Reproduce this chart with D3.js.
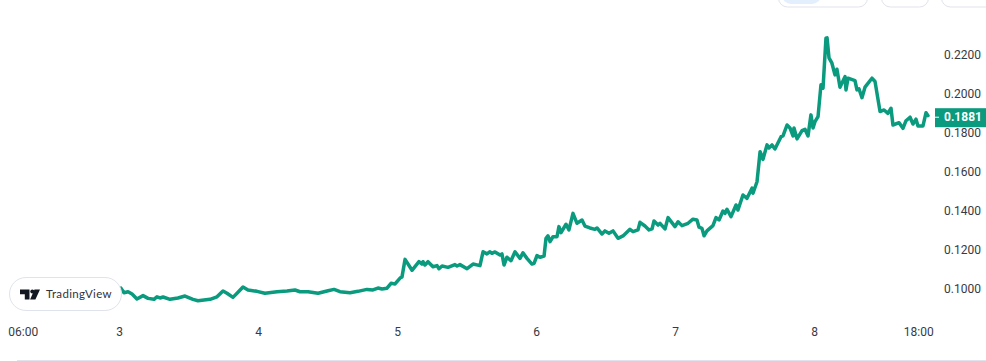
<!DOCTYPE html>
<html>
<head>
<meta charset="utf-8">
<script src="https://cdn.jsdelivr.net/npm/d3@7"></script>
<style>
  html, body { margin: 0; padding: 0; background: #fff; overflow: hidden; }
  text { font-family: Roboto, "Noto Sans", sans-serif; }
</style>
</head>
<body>
<div id="chart"></div>
<script>
const width = 986;
const height = 361;
const lineColor = '#0a9a7e';

// time in days of the month
const days = [3.014,3.036,3.065,3.094,3.129,3.173,3.209,3.252,3.273,3.295,3.317,3.367,3.424,3.475,3.532,3.568,3.655,3.705,3.748,3.777,3.820,3.856,3.892,3.928,3.993,4.050,4.137,4.209,4.266,4.302,4.360,4.432,4.504,4.547,4.590,4.662,4.719,4.784,4.827,4.863,4.892,4.928,4.957,4.986,5.022,5.036,5.058,5.108,5.158,5.180,5.187,5.201,5.223,5.259,5.288,5.302,5.324,5.367,5.417,5.432,5.453,5.504,5.547,5.597,5.619,5.647,5.669,5.683,5.705,5.741,5.755,5.770,5.791,5.820,5.849,5.885,5.906,5.935,5.971,5.986,6.007,6.029,6.058,6.072,6.086,6.101,6.122,6.151,6.165,6.180,6.216,6.237,6.266,6.295,6.331,6.352,6.388,6.424,6.439,6.475,6.496,6.525,6.554,6.590,6.626,6.676,6.698,6.734,6.748,6.784,6.813,6.835,6.849,6.878,6.892,6.928,6.950,7.000,7.022,7.050,7.094,7.129,7.158,7.173,7.194,7.209,7.230,7.273,7.295,7.317,7.345,7.360,7.374,7.403,7.439,7.453,7.489,7.518,7.554,7.561,7.590,7.612,7.633,7.662,7.676,7.698,7.719,7.763,7.777,7.806,7.827,7.849,7.856,7.878,7.914,7.935,7.957,7.978,7.993,8.007,8.029,8.050,8.065,8.086,8.094,8.108,8.129,8.151,8.165,8.187,8.223,8.230,8.245,8.295,8.309,8.324,8.345,8.367,8.417,8.439,8.475,8.504,8.532,8.554,8.568,8.612,8.640,8.662,8.691,8.712,8.734,8.748,8.784,8.806,8.820];

// price
const prices = [.1004,.0981,.0986,.0974,.0949,.0966,.0952,.0947,.0960,.0954,.0959,.0947,.0954,.0964,.0947,.0940,.0947,.0960,.0990,.0978,.0957,.0983,.1010,.0995,.0988,.0978,.0986,.0990,.0995,.0986,.0986,.0978,.0991,.0998,.0986,.0981,.0988,.0998,.0995,.1005,.1000,.1004,.1029,.1026,.1056,.1062,.1152,.1096,.1140,.1128,.1140,.1123,.1140,.1114,.1120,.1104,.1118,.1111,.1125,.1118,.1125,.1104,.1128,.1120,.1191,.1180,.1191,.1183,.1190,.1174,.1180,.1123,.1163,.1145,.1191,.1157,.1186,.1157,.1128,.1132,.1171,.1163,.1169,.1260,.1273,.1243,.1268,.1268,.1320,.1289,.1332,.1303,.1388,.1337,.1354,.1323,.1313,.1306,.1313,.1282,.1298,.1286,.1298,.1260,.1272,.1306,.1294,.1303,.1342,.1323,.1303,.1308,.1349,.1328,.1337,.1308,.1366,.1320,.1345,.1325,.1337,.1358,.1354,.1317,.1311,.1273,.1298,.1325,.1366,.1354,.1400,.1388,.1409,.1371,.1431,.1405,.1482,.1465,.1517,.1491,.1550,.1704,.1665,.1739,.1723,.1739,.1718,.1781,.1785,.1841,.1826,.1785,.1826,.1770,.1812,.1819,.1785,.1893,.1826,.1858,.1884,.2047,.2030,.2286,.2288,.2185,.2158,.2098,.2127,.2035,.2089,.2021,.2081,.2069,.2021,.2026,.1981,.2035,.2081,.2064,.1910,.1918,.1901,.1927,.1841,.1853,.1824,.1863,.1881,.1846,.1871,.1836,.1836,.1904,.1889];

const priceTicks = [0.10, 0.12, 0.14, 0.16, 0.18, 0.20, 0.22];
const timeTicks = [2.25, 3, 4, 5, 6, 7, 8, 8.75];
const timeLabels = ['06:00', '3', '4', '5', '6', '7', '8', '18:00'];
const lastPrice = 0.1881;

const scaleDay = d3.scaleLinear().domain([3, 8]).range([119, 814]);
const scalePrice = d3.scaleLinear().domain([0.10, 0.22]).range([289, 55]);

const svg = d3.select('#chart').append('svg')
  .attr('width', width)
  .attr('height', height)
  .style('display', 'block');

// the price line
const line = d3.line()
  .x((d, i) => scaleDay(days[i]))
  .y(d => scalePrice(d))
  .curve(d3.curveLinear);

svg.append('path')
  .attr('d', line(prices))
  .attr('fill', 'none')
  .attr('stroke', lineColor)
  .attr('stroke-width', 3.5)
  .attr('stroke-linejoin', 'round')
  .attr('stroke-linecap', 'round');

// price axis
const yAxis = svg.append('g')
  .attr('transform', 'translate(944,0)')
  .call(d3.axisRight(scalePrice).tickValues(priceTicks).tickFormat(d3.format('.4f')).tickSize(0).tickPadding(0));
yAxis.select('.domain').remove();
yAxis.selectAll('text').attr('font-size', 12).attr('fill', '#363a45').style('font-family', 'Roboto, sans-serif');

// time axis
const xAxis = svg.append('g')
  .attr('transform', 'translate(0,327)')
  .call(d3.axisBottom(scaleDay).tickValues(timeTicks).tickFormat((d, i) => timeLabels[i]).tickSize(0).tickPadding(0));
xAxis.select('.domain').remove();
xAxis.selectAll('text')
  .attr('font-size', 12)
  .attr('fill', '#363a45')
  .style('font-family', 'Roboto, sans-serif')
  .attr('dx', (d, i) => i === 0 ? 8 : 0); // first label is pushed in from the edge

// last price tag
const tagY = scalePrice(lastPrice);
svg.append('rect')
  .attr('x', 935).attr('y', tagY - 9)
  .attr('width', 51).attr('height', 19)
  .attr('fill', lineColor);
svg.append('line')
  .attr('x1', 935).attr('x2', 939)
  .attr('y1', tagY).attr('y2', tagY)
  .attr('stroke', '#fff');
svg.append('text')
  .attr('x', 944).attr('y', tagY)
  .attr('dy', '0.35em')
  .attr('font-size', 12)
  .attr('font-weight', 700)
  .attr('fill', '#fff')
  .text(d3.format('.4f')(lastPrice));

// TradingView badge
const badge = svg.append('g');
badge.append('rect')
  .attr('x', 9.5).attr('y', 277.5)
  .attr('width', 112).attr('height', 33).attr('rx', 16.5)
  .attr('fill', '#fff').attr('stroke', '#e0e3eb');
badge.append('path')
  .attr('d', 'M20 289.5h9.5v10h-4.7v-5.3H20z')
  .attr('fill', '#131722');
badge.append('circle').attr('cx', 32.3).attr('cy', 291.5).attr('r', 2).attr('fill', '#131722');
badge.append('path')
  .attr('d', 'M34.5 289.5h5.5l-4.6 10h-5.3z')
  .attr('fill', '#131722');
badge.append('text')
  .attr('x', 46).attr('y', 294)
  .attr('dy', '0.35em')
  .attr('font-size', 11.5)
  .attr('fill', '#2f323c')
  .style('font-family', 'Lato, sans-serif')
  .style('letter-spacing', '0.35px')
  .text('TradingView');

// bits of the page around the chart: buttons along the top, rule along the bottom
const pills = svg.append('g');
pills.append('rect').attr('x', 778.5).attr('y', -20).attr('width', 89).attr('height', 27).attr('rx', 9).attr('fill', '#fff').attr('stroke', '#e0e3eb');
pills.append('rect').attr('x', 782).attr('y', -20).attr('width', 39).attr('height', 24).attr('rx', 9).attr('fill', '#e3effd');
pills.append('rect').attr('x', 881.5).attr('y', -20).attr('width', 47).attr('height', 27).attr('rx', 9).attr('fill', '#fff').attr('stroke', '#e0e3eb');
pills.append('rect').attr('x', 941.5).attr('y', -20).attr('width', 60).attr('height', 27).attr('rx', 9).attr('fill', '#fff').attr('stroke', '#e0e3eb');
svg.append('line')
  .attr('x1', 17).attr('x2', 986)
  .attr('y1', 360.5).attr('y2', 360.5)
  .attr('stroke', '#e0e3eb');
</script>
</body>
</html>
